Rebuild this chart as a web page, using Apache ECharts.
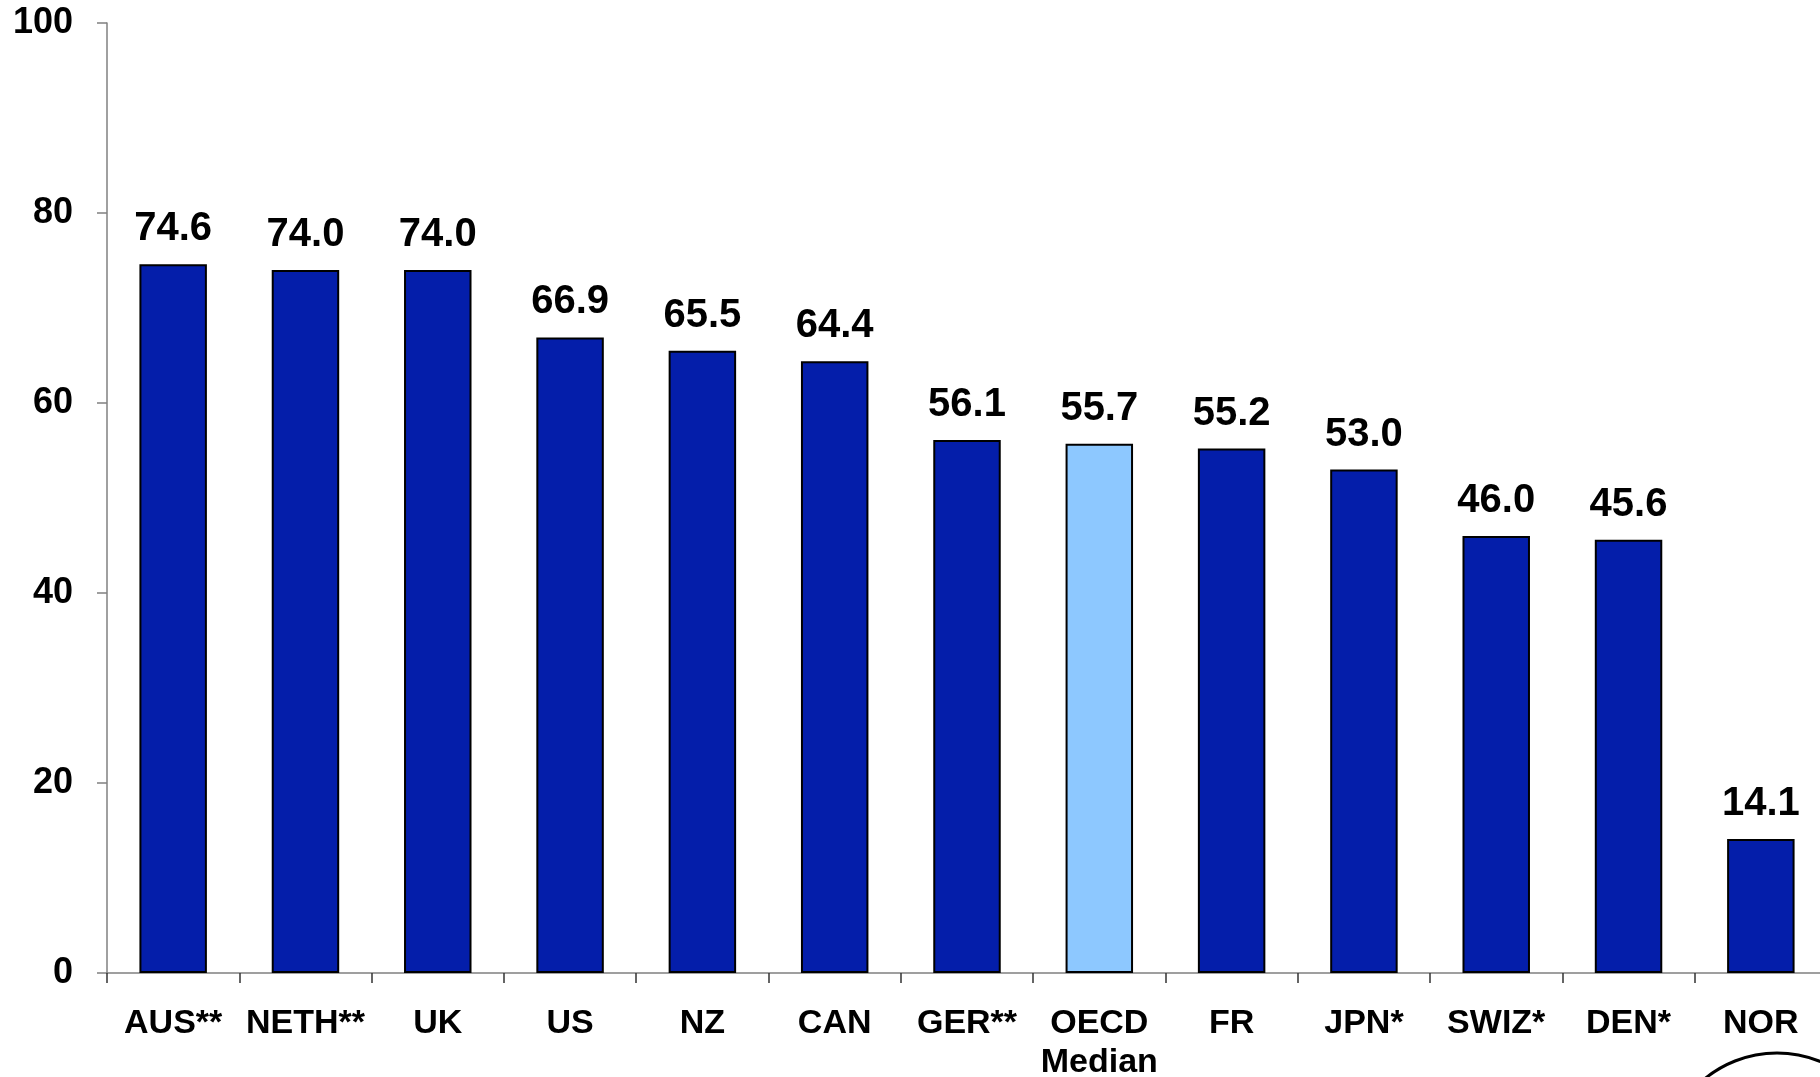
<!DOCTYPE html>
<html>
<head>
<meta charset="utf-8">
<script src="https://cdn.jsdelivr.net/npm/echarts@6/dist/echarts.min.js"></script>
<style>
html,body{margin:0;padding:0;background:#fff;}
#chart{width:1820px;height:1077px;}
</style>
</head>
<body>
<div id="chart"></div>
<script>
var categories = ['AUS**', 'NETH**', 'UK', 'US', 'NZ', 'CAN', 'GER**', 'OECD\nMedian', 'FR', 'JPN*', 'SWIZ*', 'DEN*', 'NOR'];
var values = [74.6, 74.0, 74.0, 66.9, 65.5, 64.4, 56.1, 55.7, 55.2, 53.0, 46.0, 45.6, 14.1];
var highlightCategory = 'OECD\nMedian';
var yTicks = [0, 20, 40, 60, 80, 100];

var FONT = '"Liberation Sans", Arial, sans-serif';
var chart = echarts.init(document.getElementById('chart'), null, {renderer: 'canvas'});

var data = values.map(function (v, i) {
  return {
    value: v,
    itemStyle: { color: categories[i] === highlightCategory ? '#8DC8FF' : '#041EAA' }
  };
});

chart.setOption({
  animation: false,
  grid: { left: 107, top: 23, bottom: 104, width: 1720, containLabel: false, outerBoundsMode: 'none' },
  xAxis: {
    type: 'category',
    data: categories,
    boundaryGap: true,
    axisLine: { lineStyle: { color: '#808080', width: 1.5 } },
    axisTick: { show: true, length: 10, lineStyle: { color: '#333', width: 1.5 } },
    axisLabel: {
      margin: 31, interval: 0,
      fontFamily: FONT, fontWeight: 'bold', fontSize: 34, lineHeight: 39, color: '#000'
    }
  },
  yAxis: {
    type: 'value',
    min: yTicks[0], max: yTicks[yTicks.length - 1], interval: 20,
    splitLine: { show: false },
    axisLine: { show: true, lineStyle: { color: '#808080', width: 1.5 } },
    axisTick: { show: true, length: 10, lineStyle: { color: '#808080', width: 1.5 } },
    axisLabel: {
      margin: 34,
      fontFamily: FONT, fontWeight: 'bold', fontSize: 36, color: '#000'
    }
  },
  series: [{
    type: 'bar',
    data: data,
    barWidth: '51%',
    itemStyle: { borderColor: '#000', borderWidth: 2 },
    label: {
      show: true, position: 'top', distance: 15,
      fontFamily: FONT, fontWeight: 'bold', fontSize: 40, color: '#000',
      formatter: function (p) { return p.value.toFixed(1); }
    }
  }],
  graphic: [{
    type: 'circle',
    shape: { cx: 1777, cy: 1167, r: 114 },
    style: { fill: 'none', stroke: '#000', lineWidth: 3 },
    silent: true
  }]
});
</script>
</body>
</html>
